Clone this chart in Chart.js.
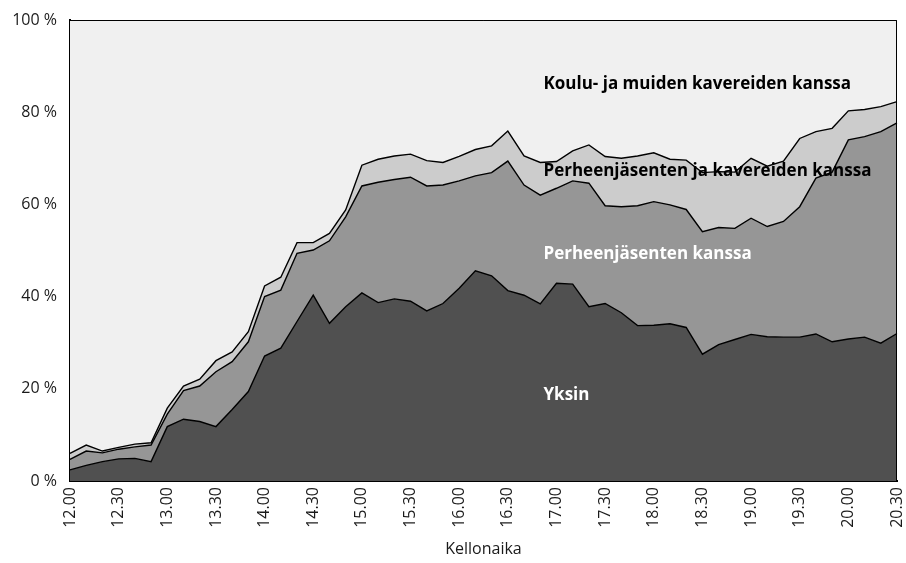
<!DOCTYPE html>
<html>
<head>
<meta charset="utf-8">
<script src="https://cdn.jsdelivr.net/npm/chart.js@4.4.0/dist/chart.umd.min.js"></script>
<style>
    html, body { margin: 0; padding: 0; background: #ffffff; }
    #wrap { width: 906px; height: 563px; }
</style>
</head>
<body>
<div id="wrap"><canvas id="chart" width="906" height="563"></canvas></div>
<script>
// Time of day, every 10 minutes
const times = [
    '12.00', '12.10', '12.20', '12.30', '12.40', '12.50',
    '13.00', '13.10', '13.20', '13.30', '13.40', '13.50',
    '14.00', '14.10', '14.20', '14.30', '14.40', '14.50',
    '15.00', '15.10', '15.20', '15.30', '15.40', '15.50',
    '16.00', '16.10', '16.20', '16.30', '16.40', '16.50',
    '17.00', '17.10', '17.20', '17.30', '17.40', '17.50',
    '18.00', '18.10', '18.20', '18.30', '18.40', '18.50',
    '19.00', '19.10', '19.20', '19.30', '19.40', '19.50',
    '20.00', '20.10', '20.20', '20.30'
];

// Shares (%)
const yksin = [
    2.4, 3.4, 4.2, 4.8, 4.9, 4.2, 11.8, 13.4, 12.9, 11.8, 15.5, 19.4,
    27.1, 28.8, 34.6, 40.3, 34.2, 37.8, 40.8, 38.7, 39.5, 39.0, 36.9, 38.5,
    41.8, 45.6, 44.5, 41.3, 40.3, 38.4, 42.9, 42.7, 37.8, 38.5, 36.5, 33.7,
    33.8, 34.1, 33.3, 27.5, 29.6, 30.7, 31.8, 31.3, 31.2, 31.2, 31.9, 30.2,
    30.8, 31.2, 29.9, 32.0
];
const perheenjasenet = [
    2.3, 3.1, 1.9, 2.1, 2.5, 3.6, 2.7, 6.2, 7.7, 11.9, 10.4, 10.8,
    12.9, 12.6, 14.8, 9.8, 17.9, 19.5, 23.2, 26.1, 25.9, 26.9, 27.1, 25.7,
    23.3, 20.6, 22.4, 28.1, 23.9, 23.6, 20.6, 22.4, 26.8, 21.2, 23.0, 26.0,
    26.8, 25.8, 25.6, 26.6, 25.4, 24.1, 25.2, 23.9, 25.1, 28.3, 33.8, 36.8,
    43.2, 43.5, 45.9, 45.7
];
const perheJaKaverit = [
    1.3, 1.3, 0.4, 0.4, 0.6, 0.5, 1.3, 1.0, 1.5, 2.4, 2.1, 2.2,
    2.3, 2.8, 2.3, 1.6, 1.6, 1.5, 4.5, 5.0, 5.1, 5.0, 5.5, 4.9,
    5.3, 5.7, 5.8, 6.5, 6.3, 7.1, 5.8, 6.5, 8.3, 10.7, 10.5, 10.8,
    10.6, 9.9, 10.7, 12.8, 12.1, 12.2, 13.0, 13.1, 13.1, 14.8, 10.1, 9.5,
    6.3, 5.9, 5.4, 4.6
];
const kouluKaverit = [
    94.0, 92.2, 93.5, 92.7, 92.0, 91.7, 84.2, 79.4, 77.9, 73.9, 72.0, 67.6,
    57.7, 55.8, 48.3, 48.3, 46.3, 41.2, 31.5, 30.2, 29.5, 29.1, 30.5, 30.9,
    29.6, 28.1, 27.3, 24.1, 29.5, 30.9, 30.7, 28.4, 27.1, 29.6, 30.0, 29.5,
    28.8, 30.2, 30.4, 33.1, 32.9, 33.0, 30.0, 31.7, 30.6, 25.7, 24.2, 23.5,
    19.7, 19.4, 18.8, 17.7
];

const yTicks = [0, 20, 40, 60, 80, 100];

// Text labels written inside the areas
const areaLabels = [
    { text: 'Koulu- ja muiden kavereiden kanssa', at: 29.2, value: 86.1, color: '#000000' },
    { text: 'Perheenjäsenten ja kavereiden kanssa', at: 29.2, value: 67.2, color: '#000000' },
    { text: 'Perheenjäsenten kanssa', at: 29.2, value: 49.2, color: '#ffffff' },
    { text: 'Yksin', at: 29.2, value: 18.7, color: '#ffffff' }
];

const labelFont = 'bold 17px "Open Sans", sans-serif';
const tickFont = { family: '"Open Sans", sans-serif', size: 16 };

// plot background and frame
const framePlugin = {
    id: 'frame',
    beforeDraw(chart) {
        const a = chart.chartArea;
        const ctx = chart.ctx;
        ctx.save();
        ctx.fillStyle = '#f0f0f0';
        ctx.fillRect(a.left, a.top, a.right - a.left, a.bottom - a.top);
        ctx.restore();
    },
    afterDraw(chart) {
        const a = chart.chartArea;
        const ctx = chart.ctx;
        ctx.save();
        ctx.strokeStyle = '#000000';
        ctx.lineWidth = 1;
        ctx.beginPath();
        ctx.moveTo(a.left, a.top + 0.5);
        ctx.lineTo(a.right - 0.5, a.top + 0.5);
        ctx.lineTo(a.right - 0.5, a.bottom);
        ctx.stroke();
        ctx.restore();
    }
};

const labelPlugin = {
    id: 'areaLabels',
    afterDatasetsDraw(chart) {
        const ctx = chart.ctx;
        const xs = chart.scales.x;
        const ys = chart.scales.y;
        ctx.save();
        ctx.font = labelFont;
        ctx.textAlign = 'left';
        ctx.textBaseline = 'middle';
        areaLabels.forEach(function(l) {
            ctx.fillStyle = l.color;
            ctx.fillText(l.text, xs.getPixelForValue(l.at), ys.getPixelForValue(l.value));
        });
        ctx.restore();
    }
};

function area(label, data, color, fill) {
    return {
        label: label,
        data: data,
        backgroundColor: color,
        borderColor: '#000000',
        borderWidth: 1.4,
        pointRadius: 0,
        tension: 0,
        fill: fill
    };
}

new Chart(document.getElementById('chart'), {
    type: 'line',
    data: {
        labels: times,
        datasets: [
            area('Yksin', yksin, '#505050', 'origin'),
            area('Perheenjäsenten kanssa', perheenjasenet, '#969696', '-1'),
            area('Perheenjäsenten ja kavereiden kanssa', perheJaKaverit, '#cccccc', '-1'),
            area('Koulu- ja muiden kavereiden kanssa', kouluKaverit, '#f0f0f0', '-1')
        ]
    },
    options: {
        responsive: false,
        animation: false,
        layout: { padding: { top: 20, right: 9, left: 0, bottom: 0 } },
        plugins: {
            legend: { display: false },
            tooltip: { enabled: false }
        },
        scales: {
            x: {
                grid: { display: false, drawTicks: false },
                border: { display: true, color: '#000000', width: 2 },
                ticks: {
                    autoSkip: false,
                    maxRotation: 90,
                    minRotation: 90,
                    padding: 6,
                    color: '#1a1a1a',
                    font: tickFont,
                    callback: function(v, i) {
                        return i % 3 === 0 ? times[i] : '';
                    }
                },
                title: {
                    display: true,
                    text: 'Kellonaika',
                    color: '#1a1a1a',
                    font: tickFont,
                    padding: { top: 0, bottom: 4 }
                },
                afterFit: function(scale) {
                    scale.height = 82;
                    scale.paddingLeft = 0;
                    scale.paddingRight = 0;
                }
            },
            y: {
                stacked: true,
                min: 0,
                max: 100,
                grid: { display: false, drawTicks: false },
                border: { display: true, color: '#000000', width: 2 },
                afterBuildTicks: function(scale) {
                    scale.ticks = yTicks.map(function(v) { return { value: v }; });
                },
                ticks: {
                    padding: 13,
                    color: '#1a1a1a',
                    font: tickFont,
                    callback: function(v) { return v + ' %'; }
                },
                afterFit: function(scale) {
                    scale.width = 70;
                    scale.paddingTop = 0;
                    scale.paddingBottom = 0;
                }
            }
        }
    },
    plugins: [framePlugin, labelPlugin]
});
</script>
</body>
</html>
